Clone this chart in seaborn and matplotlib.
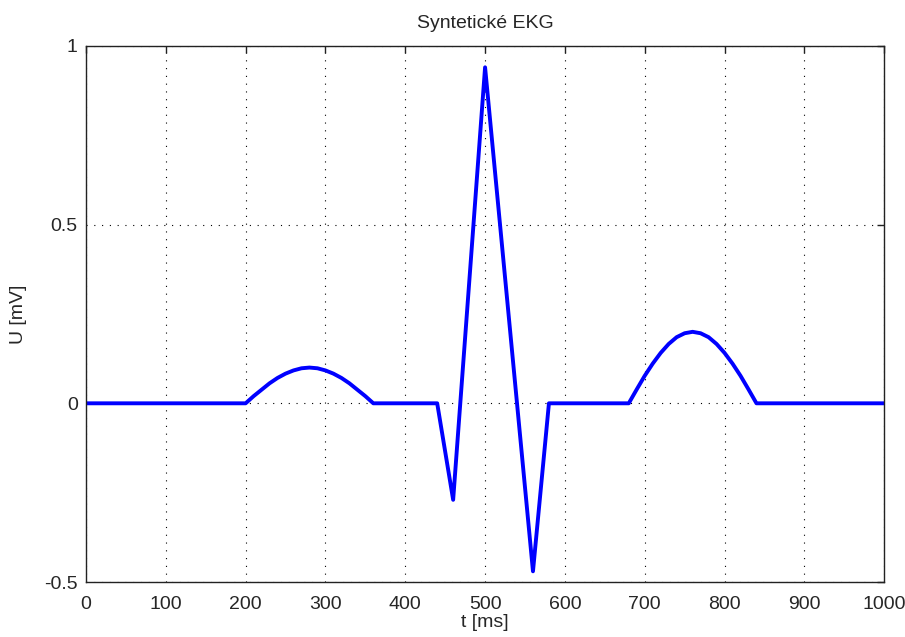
import matplotlib
matplotlib.use('Agg')
import matplotlib.pyplot as plt
import numpy as np
import pandas as pd
import seaborn as sns

# values (t in ms, U in mV)
t_ms = [0, 200, 210, 220, 230, 240, 250, 260, 270, 280, 290, 300, 310, 320,
        330, 340, 350, 360, 440, 460, 500, 560, 580, 680, 690, 700, 710, 720,
        730, 740, 750, 760, 770, 780, 790, 800, 810, 820, 830, 840, 1000]
u_mv = [0, 0, 0.020, 0.038, 0.056, 0.071, 0.083, 0.092, 0.098, 0.100, 0.098,
        0.092, 0.083, 0.071, 0.056, 0.038, 0.020, 0, 0, -0.27, 0.94, -0.47,
        0, 0, 0.039, 0.077, 0.111, 0.141, 0.166, 0.185, 0.196, 0.200, 0.196,
        0.185, 0.166, 0.141, 0.111, 0.077, 0.039, 0, 0]
x_ticks = [0, 100, 200, 300, 400, 500, 600, 700, 800, 900, 1000]
y_ticks = [-0.5, 0, 0.5, 1]
y_tick_labels = ['-0.5', '0', '0.5', '1']

df = pd.DataFrame({'t': t_ms, 'u': u_mv})

sns.set_style('white')
plt.rcParams['font.family'] = ['Liberation Sans', 'DejaVu Sans']
plt.rcParams['axes.unicode_minus'] = False

fig = plt.figure(figsize=(9.05, 6.37), dpi=100)
ax = fig.add_axes([0.095, 0.0863, 0.882, 0.8417])

sns.lineplot(data=df, x='t', y='u', sort=False, color='#0000ff', lw=2.8, ax=ax)

ax.set_xlim(0, 1000)
ax.set_ylim(-0.5, 1)
ax.set_xticks(x_ticks)
ax.set_yticks(y_ticks)
ax.set_yticklabels(y_tick_labels)
ax.grid(True, color='black', linestyle=(0, (1, 6)), linewidth=0.8)
ax.set_axisbelow(True)

for s in ax.spines.values():
    s.set_color('#222222')
    s.set_linewidth(1.0)
ax.tick_params(direction='in', length=5, width=1, color='#222222',
               top=True, right=True, labelsize=14, pad=6)
ax.tick_params(axis='x', pad=10)

ax.set_title('Syntetické EKG', fontsize=14, pad=13)
ax.set_xlabel('t [ms]', fontsize=14, labelpad=1)
ax.set_ylabel('U [mV]', fontsize=14, labelpad=12)

fig.savefig('out.png', dpi=100)
